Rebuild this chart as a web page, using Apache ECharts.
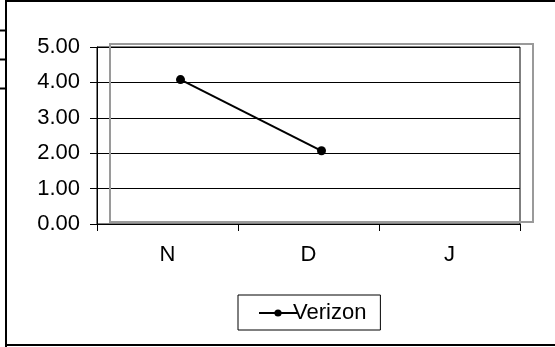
<!DOCTYPE html>
<html>
<head>
<meta charset="utf-8">
<script src="https://cdn.jsdelivr.net/npm/echarts@6/dist/echarts.min.js"></script>
<style>
html,body{margin:0;padding:0;background:#fff;}
#c{width:555px;height:347px;}
</style>
</head>
<body>
<div id="c"></div>
<script>
var categories = ['N', 'D', 'J'];
var verizon = [4.0, 2.0, null];
var seriesName = 'Verizon';
var yMin = 0, yMax = 5, yStep = 1;

var FONT = 'Liberation Sans, Arial, sans-serif';
var chart = echarts.init(document.getElementById('c'), null, {renderer: 'canvas'});
chart.setOption({
  animation: false,
  backgroundColor: '#fff',
  textStyle: {fontFamily: FONT},
  graphic: [
    {type: 'line', shape: {x1: 6, y1: 0, x2: 6, y2: 347}, style: {stroke: '#000', lineWidth: 2}},
    {type: 'line', shape: {x1: 6, y1: 1, x2: 555, y2: 1}, style: {stroke: '#000', lineWidth: 2}},
    {type: 'line', shape: {x1: 6, y1: 345, x2: 555, y2: 345}, style: {stroke: '#000', lineWidth: 2}},
    {type: 'line', shape: {x1: 0, y1: 30.5, x2: 6, y2: 30.5}, style: {stroke: '#000', lineWidth: 2}},
    {type: 'line', shape: {x1: 0, y1: 59.5, x2: 6, y2: 59.5}, style: {stroke: '#000', lineWidth: 2}},
    {type: 'line', shape: {x1: 0, y1: 88.5, x2: 6, y2: 88.5}, style: {stroke: '#000', lineWidth: 2}}
  ],
  grid: [
    {left: 97, right: 35, top: 47, bottom: 123, show: true, borderColor: '#000', borderWidth: 1, containLabel: false},
    {left: 110, right: 22, top: 44, bottom: 125, show: true, borderColor: '#9a9a9a', borderWidth: 2, containLabel: false, z: 3}
  ],
  xAxis: [
    {type: 'category', gridIndex: 0, data: categories, boundaryGap: true,
     axisLine: {show: true, lineStyle: {color: '#000', width: 1}},
     axisTick: {show: true, length: 7, alignWithLabel: false, lineStyle: {color: '#000'}},
     axisLabel: {color: '#000', fontSize: 22, fontFamily: FONT, margin: 20},
     splitLine: {show: false}},
    {type: 'category', gridIndex: 1, data: categories, boundaryGap: true, show: false}
  ],
  yAxis: [
    {type: 'value', gridIndex: 0, min: yMin, max: yMax, interval: yStep,
     axisLine: {show: true, lineStyle: {color: '#000', width: 1}},
     axisTick: {show: true, length: 7, lineStyle: {color: '#000'}},
     axisLabel: {color: '#000', fontSize: 22, fontFamily: FONT, margin: 17,
       formatter: function (v) { return v.toFixed(2); }},
     splitLine: {show: true, lineStyle: {color: '#000', width: 1}}},
    {type: 'value', gridIndex: 1, min: yMin, max: yMax, interval: yStep, show: false,
     splitLine: {show: false}}
  ],
  legend: {
    show: true, left: 238, top: 295,
    padding: [7, 14, 6, 20],
    borderColor: '#000', borderWidth: 1, borderRadius: 0,
    itemWidth: 38, itemHeight: 9, itemGap: 0,
    textStyle: {color: '#000', fontSize: 22, fontFamily: FONT, padding: [0, 0, 0, -9]},
    data: [{name: seriesName}]
  },
  series: [{
    name: seriesName, type: 'line', xAxisIndex: 1, yAxisIndex: 1,
    data: verizon, connectNulls: false,
    symbol: 'circle', symbolSize: 9, showSymbol: true,
    itemStyle: {color: '#000'},
    lineStyle: {color: '#000', width: 2},
    z: 5
  }]
});
</script>
</body>
</html>
